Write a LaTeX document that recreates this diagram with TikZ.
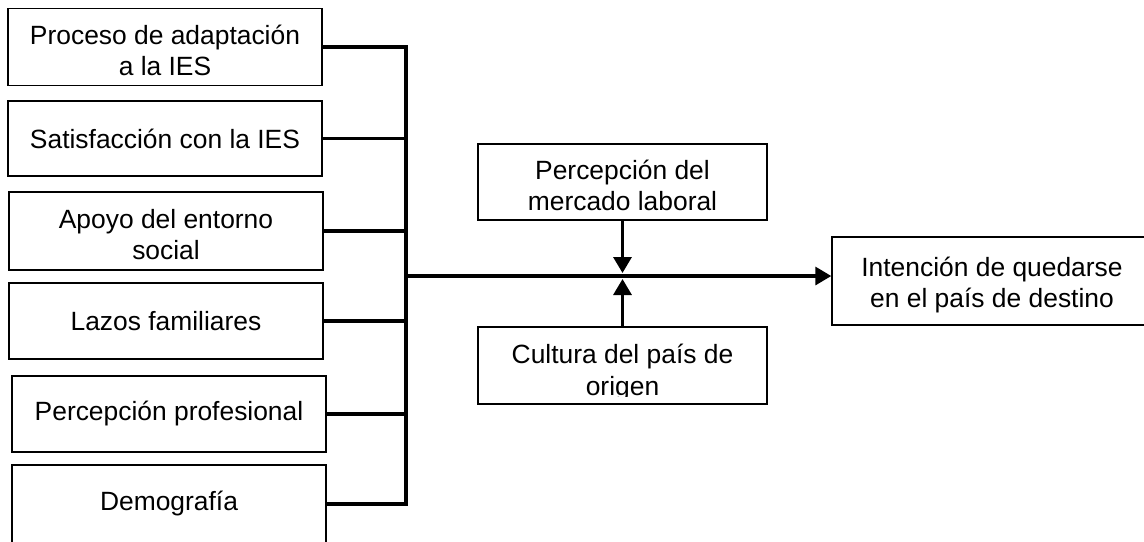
\documentclass[tikz,border=0pt]{standalone}
\usepackage{fontspec}
\setmainfont{Liberation Sans}
\usetikzlibrary{arrows.meta}

\begin{document}
\begin{tikzpicture}[x=0.5pt, y=-0.5pt]
\tikzstyle{node}=[draw, rectangle, line width=0.7pt, align=center, inner sep=0pt, font=\fontsize{13.2}{15.5}\selectfont]
\tikzstyle{twoline}=[text height=29pt]
\tikzstyle{line}=[draw, line width=1.6pt]
\tikzstyle{path}=[draw, -{Triangle[length=8pt, width=9pt]}, line width=1.6pt]

\def \wleft {157pt}
\def \wmid {144.5pt}

\useasboundingbox (0,0) rectangle (1144,541);

\node[node, twoline, minimum width=\wleft, minimum height=38.5pt]	(proceso) at		(165,	47)		{Proceso de adaptación\\a la IES};
\node[node, minimum width=\wleft, minimum height=37.5pt]			(satisfaccion) at	(165,	138.5)	{Satisfacción con la IES};
\node[node, twoline, minimum width=\wleft, minimum height=39pt]	(apoyo) at			(166,	231)	{Apoyo del entorno\\social};
\node[node, minimum width=\wleft, minimum height=38pt]			(lazos) at			(166,	321)	{Lazos familiares};
\node[node, minimum width=\wleft, minimum height=38pt]			(percepcion) at		(169,	414)	{Percepción profesional};
\node[node, minimum width=\wleft, minimum height=39pt]			(demografia) at		(169,	504)	{Demografía};

\node[node, twoline, minimum width=\wmid, minimum height=38pt]	(mercado) at		(622.5,	182)	{Percepción del\\mercado laboral};
\node[node, minimum width=\wmid, minimum height=38.5pt]			(cultura) at		(622.5,	365.5)	{};
\node[node, twoline, minimum width=160pt, minimum height=44pt]	(intencion) at		(992,	281)	{Intención de quedarse\\en el país de destino};

% text of the lower box is cut by its inner margin
\begin{scope}
\clip (cultura.north west) rectangle ([yshift=4pt]cultura.south east);
\node[node, draw=none, font=\fontsize{13.2}{16.2}\selectfont]	(culturatext) at	(622.5,	372.4)	{Cultura del país de\\origen};
\end{scope}

\coordinate (join) at (406, 276);

\path[line] (proceso.east) -| (join |- demografia.east) -- (demografia.east);
\path[line] (satisfaccion.east) -- (satisfaccion.east -| join);
\path[line] (apoyo.east) -- (apoyo.east -| join);
\path[line] (lazos.east) -- (lazos.east -| join);
\path[line] (percepcion.east) -- (percepcion.east -| join);

\path[path] (join) -- (join -| intencion.west);
\path[path, shorten >=1.5pt] (mercado.south) -- (mercado.south |- join);
\path[path, shorten >=1.5pt] (cultura.north) -- (cultura.north |- join);

\end{tikzpicture}
\end{document}
